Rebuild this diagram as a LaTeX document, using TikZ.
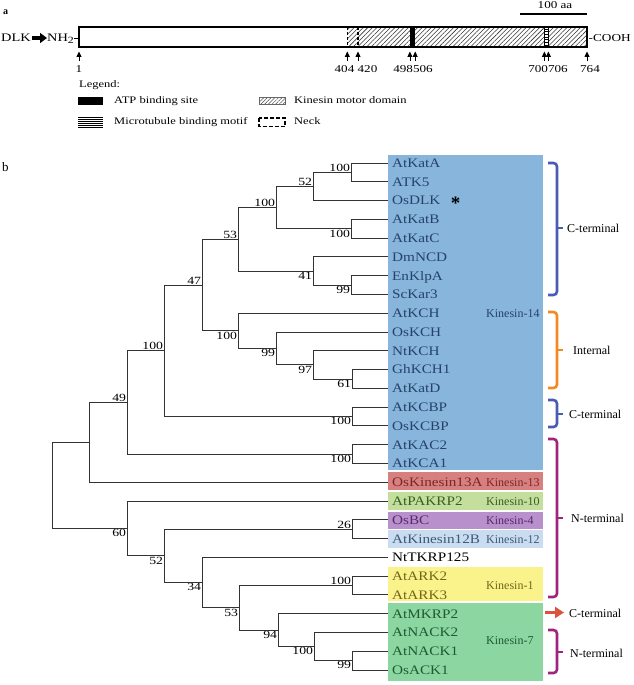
\documentclass[tikz,border=0pt]{standalone}
\usepackage{fontspec}
\setmainfont{Liberation Serif}
\newfontfamily\wfont{Liberation Serif}[FakeStretch=1.17]
\newfontfamily\nfont{Liberation Serif}[FakeStretch=1.25]
\usetikzlibrary{calc,patterns.meta,arrows.meta}
\definecolor{bxblue}{RGB}{135,181,220}
\definecolor{bxred}{RGB}{216,128,128}
\definecolor{bxlgreen}{RGB}{196,222,158}
\definecolor{bxpurple}{RGB}{184,144,204}
\definecolor{bxlblue}{RGB}{202,221,240}
\definecolor{bxyellow}{RGB}{250,243,140}
\definecolor{bxgreen}{RGB}{140,214,162}
\definecolor{txblue}{RGB}{38,66,105}
\definecolor{txred}{RGB}{120,40,40}
\definecolor{txlgreen}{RGB}{55,95,30}
\definecolor{txpurple}{RGB}{90,40,110}
\definecolor{txlblue}{RGB}{60,88,120}
\definecolor{txyellow}{RGB}{115,100,25}
\definecolor{txgreen}{RGB}{30,90,50}
\definecolor{brblue}{RGB}{72,92,180}
\definecolor{brorange}{RGB}{240,138,36}
\definecolor{brpurple}{RGB}{160,36,126}
\definecolor{brred}{RGB}{217,83,63}
\tikzset{
  tree/.style={draw=black!80, line width=0.9pt},
  leaf/.style={anchor=base west, inner sep=0pt, font=\wfont\fontsize{13}{13}\selectfont},
  bs/.style={inner sep=0.8pt, font=\nfont\fontsize{11}{11}\selectfont},
  side/.style={anchor=west, inner sep=0pt, font=\fontsize{12}{12}\selectfont},
  kin/.style={anchor=base west, inner sep=0pt, font=\fontsize{12}{12}\selectfont},
  topt/.style={anchor=base west, inner sep=0pt, font=\nfont\fontsize{11.5}{11.5}\selectfont},
  legt/.style={anchor=base west, inner sep=0pt, font=\nfont\fontsize{10}{10}\selectfont},
  post/.style={anchor=base, inner sep=0pt, font=\nfont\fontsize{10.5}{10.5}\selectfont},
  bracepath/.style={line width=2.6pt, rounded corners=3.5pt},
  posarrow/.style={line width=0.8pt, -{Triangle[length=5.5pt,width=5pt]}},
}
\newcommand\clade[6]{%
  \path let \p1=(#3), \p2=(#4) in coordinate (#1) at (#2pt,{0.5*\y1+0.5*\y2});
  \draw[tree] (#3) -| (#1 |- #4) -- (#4);
  \node[bs,anchor=#6] (b#1) at (#1) {#5};
}
\newcommand\sidebrace[4]{%
  \draw[bracepath,#1] (548,#2) -- (557,#2) -- (557,#3) -- (548,#3);
  \draw[#1,line width=2.6pt] (557,#4) -- (563,#4);
}
\begin{document}
\begin{tikzpicture}[x=1pt,y=-1pt]
\useasboundingbox (0,0) rectangle (633,685);
% ---------------- part a ----------------
\node[font=\bfseries\fontsize{10}{10}\selectfont, anchor=base west, inner sep=0pt] (la) at (3,15) {a};
\node[topt] (dlk) at (1,42) {DLK};
\node[topt] (nh2) at (47,42) {NH\raisebox{-1.5pt}{\fontsize{9.5}{9.5}\selectfont 2}};
\coordinate (dlkarr) at (32,38);
\coordinate (nharr) at (47,38);
\draw[line width=3.5pt, -{Triangle[length=7pt,width=10pt]}] (dlkarr) -- (nharr);
\draw[line width=0.8pt] (74,38) -- (79,38);
% bar
\fill[pattern={Lines[angle=45,distance=3.2pt,line width=0.55pt]}, pattern color=black!80] (347.3,27) rectangle (587,47);
\fill[black] (409.9,27) rectangle (415.2,47);
\fill[white] (544.4,27) rectangle (548.4,47);
\foreach \k in {0,...,6} \draw[line width=0.7pt] (544.4,{29+2.7*\k}) -- (548.4,{29+2.7*\k});
\draw[line width=0.7pt] (544.4,27) -- (544.4,47) (548.4,27) -- (548.4,47);
\draw[line width=1.2pt, dash pattern=on 3pt off 2pt] (347.3,27) -- (347.3,47) (358,27) -- (358,47);
\draw[line width=1.8pt] (79,27) rectangle (587,47);
\node[topt, font=\nfont\fontsize{10.6}{10.6}\selectfont] (cooh) at (588.5,42) {-COOH};
% scale bar
\node[post] (sc) at (555,9) {100 aa};
\draw[line width=1.5pt] (520,14) -- (587,14);
% position arrows
\foreach \p in {79,347.3,358,409.9,415.2,544.4,548.4,587} \draw[posarrow] (\p,61) -- (\p,51.5);
\node[post] (p1) at (79,72) {1};
\node[post] (p404) at (356,72) {404 420};
\node[post] (p498) at (413,72) {498506};
\node[post] (p700) at (548,72) {700706};
\node[post] (p764) at (590,72) {764};
% legend
\node[legt] (leg) at (79,87) {Legend:};
\fill[black] (78,97) rectangle (103,105);
\node[legt] (lg1) at (114,103) {ATP binding site};
\fill[pattern={Lines[angle=45,distance=2.6pt,line width=0.5pt]}, pattern color=black!70] (259,97) rectangle (285,104.5);
\draw[black!60, line width=0.5pt] (259,97) rectangle (285,104.5);
\node[legt] (lg2) at (294,103) {Kinesin motor domain};
\foreach \k in {0,...,5} \draw[line width=0.9pt] (78,{117.5+2*\k}) -- (103,{117.5+2*\k});
\node[legt] (lg3) at (114,124.5) {Microtubule binding motif};
\draw[line width=1.6pt, dash pattern=on 4pt off 2pt] (259,118) rectangle (285,126.5);
\node[legt] (lg4) at (294,124.5) {Neck};
% ---------------- part b ----------------
\node[font=\fontsize{13}{13}\selectfont, anchor=base west, inner sep=0pt] (lb) at (2,171) {b};
% boxes
\fill[bxblue] (388,155) rectangle (543,470);
\fill[bxred] (388,472) rectangle (543,490);
\fill[bxlgreen] (388,492) rectangle (543,510);
\fill[bxpurple] (388,511.5) rectangle (543,528.5);
\fill[bxlblue] (388,530) rectangle (543,548);
\fill[bxyellow] (388,567) rectangle (543,601);
\fill[bxgreen] (388,603) rectangle (543,681);
% leaves
\foreach \i/\nm/\tc in {0/AtKatA/txblue,1/ATK5/txblue,2/OsDLK/txblue,3/AtKatB/txblue,4/AtKatC/txblue,5/DmNCD/txblue,6/EnKlpA/txblue,7/ScKar3/txblue,8/AtKCH/txblue,9/OsKCH/txblue,10/NtKCH/txblue,11/GhKCH1/txblue,12/AtKatD/txblue,13/AtKCBP/txblue,14/OsKCBP/txblue,15/AtKAC2/txblue,16/AtKCA1/txblue,17/OsKinesin13A/txred,18/AtPAKRP2/txlgreen,19/OsBC/txpurple,20/AtKinesin12B/txlblue,21/NtTKRP125/black,22/AtARK2/txyellow,23/AtARK3/txyellow,24/AtMKRP2/txgreen,25/AtNACK2/txgreen,26/AtNACK1/txgreen,27/OsACK1/txgreen}{
  \coordinate (L\i) at (388,{163+18.78*\i});
  \node[leaf,text=\tc] (T\i) at (392,{167.4+18.78*\i}) {\nm};
}
\node[font=\bfseries\fontsize{19}{19}\selectfont, inner sep=0pt] (star) at (455.5,203.5) {*};
% kinesin family labels
\node[kin,text=txblue] (k14) at (486,317) {Kinesin-14};
\node[kin,text=txred] (k13) at (486,486) {Kinesin-13};
\node[kin,text=txlgreen] (k10) at (486,505) {Kinesin-10};
\node[kin,text=txpurple] (k4) at (486,524) {Kinesin-4};
\node[kin,text=txlblue] (k12) at (486,543) {Kinesin-12};
\node[kin,text=txyellow] (k1) at (486,589) {Kinesin-1};
\node[kin,text=txgreen] (k7) at (486,644) {Kinesin-7};
% tree
\clade{n1}{351}{L0}{L1}{100}{south east}
\clade{n2}{313}{n1}{L2}{52}{south east}
\clade{n3}{351}{L3}{L4}{100}{north east}
\clade{n4}{276}{n2}{n3}{100}{south east}
\clade{n5}{351}{L6}{L7}{99}{north east}
\clade{n6}{313}{L5}{n5}{41}{north east}
\clade{n7}{238}{n4}{n6}{53}{south east}
\clade{n8}{352}{L11}{L12}{61}{north east}
\clade{n9}{313}{L10}{n8}{97}{north east}
\clade{n10}{276}{L9}{n9}{99}{north east}
\clade{n11}{238}{L8}{n10}{100}{north east}
\clade{n12}{202}{n7}{n11}{47}{south east}
\clade{n13}{352}{L13}{L14}{100}{north east}
\clade{n14}{164}{n12}{n13}{100}{south east}
\clade{n15}{352}{L15}{L16}{100}{north east}
\clade{n16}{127}{n14}{n15}{49}{south east}
\clade{n17}{89}{n16}{L17}{}{south east}
\clade{n18}{352}{L19}{L20}{26}{south east}
\clade{n19}{352}{L22}{L23}{100}{south east}
\clade{n20}{352}{L26}{L27}{99}{north east}
\clade{n21}{314}{L25}{n20}{100}{north east}
\clade{n22}{278}{L24}{n21}{94}{north east}
\clade{n23}{239}{n19}{n22}{53}{north east}
\clade{n24}{202}{L21}{n23}{34}{north east}
\clade{n25}{164}{n18}{n24}{52}{north east}
\clade{n26}{127}{L18}{n25}{60}{north east}
\clade{root}{52}{n17}{n26}{}{south east}
% braces and side labels
\sidebrace{brblue}{163}{295}{228}
\sidebrace{brorange}{312}{388}{350}
\sidebrace{brblue}{400}{427}{414}
\sidebrace{brpurple}{439}{597}{518}
\sidebrace{brpurple}{630}{673}{652}
\node[side] (c1) at (567,228) {C-terminal};
\node[side] (int) at (573,350) {Internal};
\node[side] (c2) at (569,414) {C-terminal};
\node[side] (nt1) at (571,518) {N-terminal};
\node[side] (c3) at (569,613) {C-terminal};
\node[side] (nt2) at (570,653) {N-terminal};
\coordinate (ra) at (545,612.5);
\draw[brred, line width=3pt, -{Triangle[length=9pt,width=11pt]}] (ra) -- ([xshift=-5pt]c3.west |- ra);
\end{tikzpicture}
\end{document}
